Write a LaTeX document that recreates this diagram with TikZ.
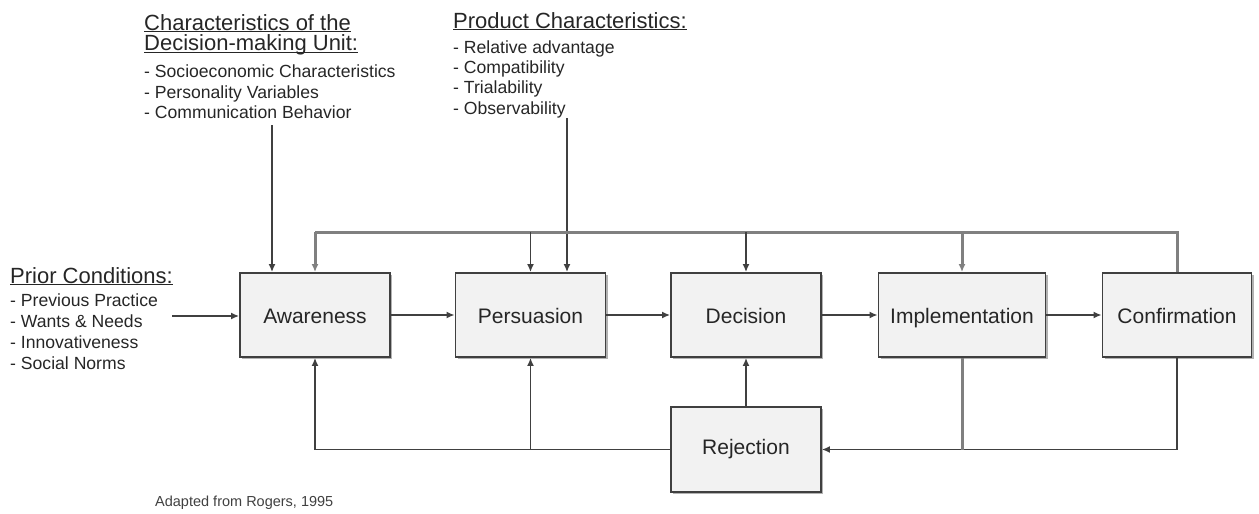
\documentclass[tikz,border=0pt]{standalone}
\usepackage{fontspec}
\setmainfont{Liberation Sans}
\usetikzlibrary{arrows.meta,shadows}
\newcommand\ulh[1]{\underline{\raisebox{0pt}[\height][0pt]{#1}}}
\newcommand\hdfont{\fontsize{22}{22}\selectfont}
\begin{document}
\begin{tikzpicture}[x=1pt,y=-1pt,
  stage/.style={draw=black!75, line width=1.8pt, fill=black!5,
    minimum width=150pt, minimum height=84pt, inner sep=0pt,
    text height=17pt, text depth=0pt,
    font=\fontsize{21}{24}\selectfont, text=black!85,
    general shadow={fill=black!30, shadow xshift=2pt, shadow yshift=-2pt}},
  txt/.style={align=left, inner sep=0pt, text=black!85,
    font=\fontsize{17.6}{20.4}\selectfont},
  conn/.style={draw=black!75, line width=1.8pt},
  arr/.style={conn, -{Latex[length=8pt,width=7pt]}},
  fb/.style={draw=black!50, line width=3pt},
  fbarr/.style={fb, -{Latex[length=8pt,width=7pt]}}
]
\useasboundingbox (0,0) rectangle (1259,514);

% stages
\node[stage] (aw) at (315,315) {Awareness};
\node[stage] (pe) at (530.5,315) {Persuasion};
\node[stage] (de) at (746,315) {Decision};
\node[stage, minimum width=167pt] (im) at (962,315) {Implementation};
\node[stage, minimum width=149pt] (cf) at (1177,315) {Confirmation};
\node[stage, minimum height=85pt, text height=10pt] (rj) at (746,449.5) {Rejection};

% texts
\node[txt, anchor=north west] (dmu) at (144,14)
  {{\hdfont\ulh{Characteristics of the}}\\
   {\hdfont\ulh{Decision-making Unit:}}\\[7pt]
   - Socioeconomic Characteristics\\
   - Personality Variables\\
   - Communication Behavior};
\node[txt, anchor=north west] (pc) at (453,12)
  {{\hdfont\ulh{Product Characteristics:}}\\[4.5pt]
   - Relative advantage\\
   - Compatibility\\
   - Trialability\\
   - Observability};
\node[txt, anchor=north west, font=\fontsize{17.6}{21}\selectfont] (pr) at (10,267)
  {{\hdfont\ulh{Prior Conditions:}}\\[2pt]
   - Previous Practice\\
   - Wants \& Needs\\
   - Innovativeness\\
   - Social Norms};
\node[inner sep=0pt, anchor=west, text=black!75, font=\fontsize{14.5}{16}\selectfont] (cr) at (155,503)
  {Adapted from Rogers, 1995};

% input connectors
\coordinate (dmuS) at (272,125);
\coordinate (pcS) at (567,118);
\coordinate (prS) at (172,316);
\draw[arr] (dmuS) -- (dmuS |- aw.north);
\draw[arr] (pcS) -- (pcS |- pe.north);
\draw[arr] (prS) -- (aw.west |- prS);

% main flow
\draw[arr] (aw.east) -- (pe.west);
\draw[arr] (pe.east) -- (de.west);
\draw[arr] (de.east) -- (im.west);
\draw[arr] (im.east) -- (cf.west);

% top feedback
\coordinate (top) at (1177,232);
\draw[fb] (cf.north) -- (cf.north |- top) -- (aw.north |- top);
\draw[fbarr] (aw.north |- top) -- (aw.north);
\draw[arr] (pe.north |- top) -- (pe.north);
\draw[arr] (de.north |- top) -- (de.north);
\draw[fbarr] (im.north |- top) -- (im.north);

% bottom / rejection
\draw[arr] (cf.south) |- (rj.east);
\draw[fb] (im.south) -- (im.south |- rj.east);
\draw[conn] (rj.west) -- (aw.south |- rj.west);
\draw[arr] (aw.south |- rj.west) -- (aw.south);
\draw[arr] (pe.south |- rj.west) -- (pe.south);
\draw[arr] (rj.north) -- (de.south);
\end{tikzpicture}
\end{document}
